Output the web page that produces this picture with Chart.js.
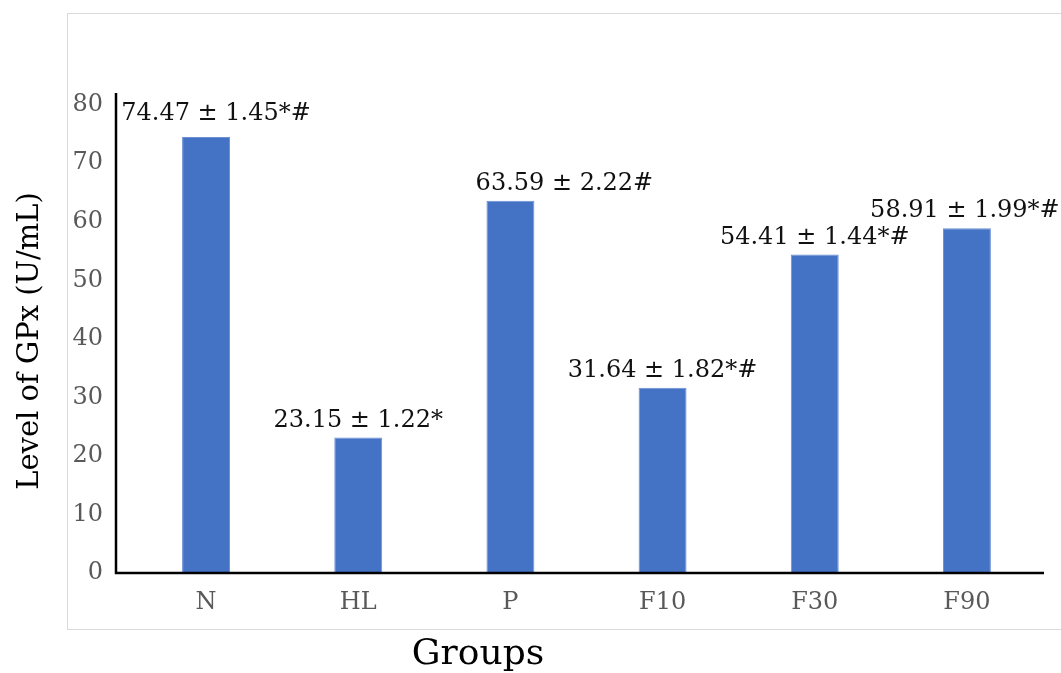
<!DOCTYPE html>
<html>
<head>
<meta charset="utf-8">
<title>GPx levels by group</title>
<script src="https://cdn.jsdelivr.net/npm/chart.js@4.4.1/dist/chart.umd.min.js"></script>
<style>
  html, body { margin: 0; padding: 0; background: #ffffff; }
  #wrap { position: relative; width: 1061px; height: 673px; }
</style>
</head>
<body>
<div id="wrap"><canvas id="gpxChart"></canvas></div>
<script>
// GPx level (U/mL), mean ± SEM per group
const GROUPS = ['N', 'HL', 'P', 'F10', 'F30', 'F90'];
const GPX_MEAN = [74.47, 23.15, 63.59, 31.64, 54.41, 58.91];
const GPX_SEM = [1.45, 1.22, 2.22, 1.82, 1.44, 1.99];
const SIG_MARKS = ['*#', '*', '#', '*#', '*#', '*#'];
const Y_TICKS = [0, 10, 20, 30, 40, 50, 60, 70, 80];

const SERIF = 'DejaVu Serif';
const BAR_BLUE = '#4472C4';

// frame, axis lines, value labels and axis titles
const decorations = {
  id: 'decorations',
  beforeDraw(chart) {
    const { ctx } = chart;
    ctx.save();
    ctx.strokeStyle = '#d9d9d9';
    ctx.lineWidth = 1;
    ctx.strokeRect(67.5, 13.5, 1000, 616);
    ctx.restore();
  },
  afterDatasetsDraw(chart, args, opts) {
    const { ctx, chartArea } = chart;
    const bars = chart.getDatasetMeta(0).data;

    ctx.save();
    // axis lines
    ctx.strokeStyle = '#000000';
    ctx.lineWidth = 2.5;
    ctx.beginPath();
    ctx.moveTo(opts.axisX, chartArea.top);
    ctx.lineTo(opts.axisX, chartArea.bottom);
    ctx.lineTo(chartArea.right + 1, chartArea.bottom);
    ctx.stroke();

    // value labels above the bars
    ctx.fillStyle = '#111111';
    ctx.font = `24px "${SERIF}"`;
    ctx.textAlign = 'center';
    ctx.textBaseline = 'bottom';
    bars.forEach((bar, i) => {
      const text = `${GPX_MEAN[i].toFixed(2)} ± ${GPX_SEM[i].toFixed(2)}${SIG_MARKS[i]}`;
      const nudge = opts.nudge[GROUPS[i]] || [0, 0];
      ctx.fillText(text, bar.x + nudge[0], bar.y - 5 + nudge[1]);
    });

    // axis titles
    ctx.fillStyle = '#000000';
    ctx.textBaseline = 'middle';
    ctx.font = `36px "${SERIF}"`;
    ctx.fillText('Groups', 478, 655);

    ctx.translate(30, 341);
    ctx.rotate(-Math.PI / 2);
    ctx.font = `29px "${SERIF}"`;
    ctx.fillText('Level of GPx (U/mL)', 0, 0);
    ctx.restore();
  }
};

new Chart(document.getElementById('gpxChart'), {
  type: 'bar',
  data: {
    labels: GROUPS,
    datasets: [{
      label: 'GPx',
      data: GPX_MEAN,
      backgroundColor: BAR_BLUE,
      borderColor: '#6b90d4',
      borderWidth: 1,
      barPercentage: 0.315,
      categoryPercentage: 1
    }]
  },
  options: {
    responsive: true,
    maintainAspectRatio: false,
    animation: false,
    layout: {
      padding: { left: 0, right: 18, top: 93, bottom: 0 }
    },
    scales: {
      x: {
        grid: { display: false, drawTicks: false },
        border: { display: false },
        ticks: {
          color: '#595959',
          padding: 15,
          font: { family: SERIF, size: 24 }
        },
        afterFit(scale) { scale.height = 100; }
      },
      y: {
        min: 0,
        max: 82,
        grid: { display: false, drawTicks: false },
        border: { display: false },
        ticks: {
          color: '#595959',
          padding: 27,
          font: { family: SERIF, size: 24 }
        },
        afterBuildTicks(scale) {
          scale.ticks = Y_TICKS.map(v => ({ value: v }));
        },
        afterFit(scale) { scale.width = 130; }
      }
    },
    plugins: {
      legend: { display: false },
      tooltip: { enabled: false },
      decorations: {
        axisX: 116,
        nudge: { N: [10, -6], P: [54, 0], F90: [-2, 0] }
      }
    }
  },
  plugins: [decorations]
});
</script>
</body>
</html>
